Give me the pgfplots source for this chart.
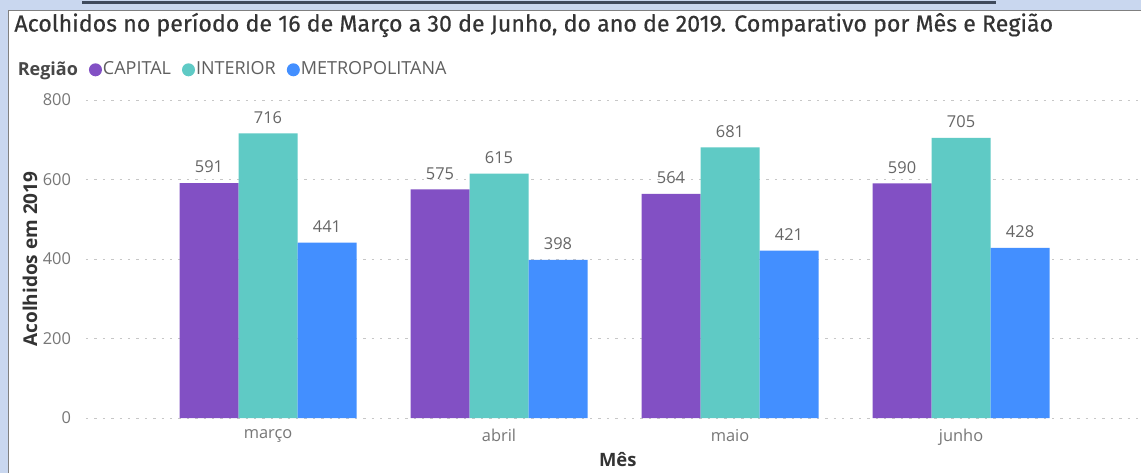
\documentclass[border=0pt]{standalone}
\usepackage{pgfplots}
\pgfplotsset{compat=1.18}
\usepackage{fontspec}
\setmainfont{Open Sans}
\newfontfamily\titlefont[FakeBold=0.4]{Fira Sans}

\definecolor{capital}{HTML}{8250C4}
\definecolor{interior}{HTML}{5FCAC5}
\definecolor{metro}{HTML}{438FFF}
\definecolor{winbg}{HTML}{C9D7EF}
\definecolor{ticktxt}{HTML}{777777}
\definecolor{valtxt}{HTML}{666666}
\definecolor{darktxt}{HTML}{333333}
\definecolor{headline}{HTML}{3F4A5C}

\begin{document}
\begin{tikzpicture}
% 1 px of the reference = 0.5pt
\useasboundingbox (0,0) rectangle (570.5pt,-236.5pt);
\fill[winbg] (0,0) rectangle (570.5pt,-236.5pt);
\fill[white] (4pt,-5pt) rectangle (570.5pt,-236.5pt);
\draw[gray, line width=0.6pt] (4.2pt,-236.5pt) -- (4.2pt,-5.2pt) -- (570.5pt,-5.2pt);
\draw[headline, line width=1.2pt] (41pt,-1.2pt) -- (498pt,-1.2pt);
\node[anchor=west, inner sep=0pt, text=darktxt, font=\titlefont\fontsize{11.6}{13}\selectfont]
	at (7pt,-12.5pt) {Acolhidos no período de 16 de Março a 30 de Junho, do ano de 2019. Comparativo por Mês e Região};

\begin{axis}[
	at={(43pt,-209pt)}, anchor=south west,
	scale only axis, width=527.5pt, height=159pt,
	ybar=0pt, bar width=29.5pt,
	xmin=-0.788, xmax=3.779, ymin=0, ymax=800,
	xtick={0,1,2,3},
	xticklabels={março,abril,maio,junho},
	ytick={0,200,400,600,800},
	/pgf/number format/assume math mode=true,
	ymajorgrids,
	grid style={color=black!22, line width=0.5pt, dash pattern=on 1.2pt off 3pt},
	axis line style={draw=none},
	major tick length=0pt,
	tick label style={font=\fontsize{8.2}{10}\selectfont, text=ticktxt},
	yticklabel style={xshift=-4pt},
	xticklabel style={yshift=-2pt},
	nodes near coords,
	every node near coord/.append style={font=\fontsize{8.2}{10}\selectfont, text=valtxt, yshift=1.5pt},
	ylabel={Acolhidos em 2019},
	ylabel style={at={(axis description cs:-0.053,0.5)}, anchor=center, font=\bfseries\fontsize{9.5}{11}\selectfont, text=darktxt},
	xlabel={Mês},
	xlabel style={at={(axis description cs:0.504,-0.132)}, anchor=center, font=\bfseries\fontsize{9.2}{11}\selectfont, text=darktxt},
	legend columns=-1,
	legend style={at={(axis description cs:-0.066,1.095)}, anchor=west, draw=none, fill=none,
		inner sep=0pt, font=\fontsize{9}{11}\selectfont, text=ticktxt!80!black,
		nodes={inner sep=0.5pt},
		/tikz/every even column/.append style={column sep=5pt}},
]
\addlegendimage{empty legend}
\addlegendentry{\textbf{\color{darktxt!90}Região}\hspace{1.5pt}}
\addplot[fill=capital, draw=none,
	legend image code/.code={\fill[capital] (3.25pt,0) circle (3.25pt);}]
	coordinates {(0,591) (1,575) (2,564) (3,590)};
\addlegendentry{CAPITAL}
\addplot[fill=interior, draw=none,
	legend image code/.code={\fill[interior] (3.25pt,0) circle (3.25pt);}]
	coordinates {(0,716) (1,615) (2,681) (3,705)};
\addlegendentry{INTERIOR}
\addplot[fill=metro, draw=none,
	legend image code/.code={\fill[metro] (3.25pt,0) circle (3.25pt);}]
	coordinates {(0,441) (1,398) (2,421) (3,428)};
\addlegendentry{METROPOLITANA}
\end{axis}
\end{tikzpicture}
\end{document}
